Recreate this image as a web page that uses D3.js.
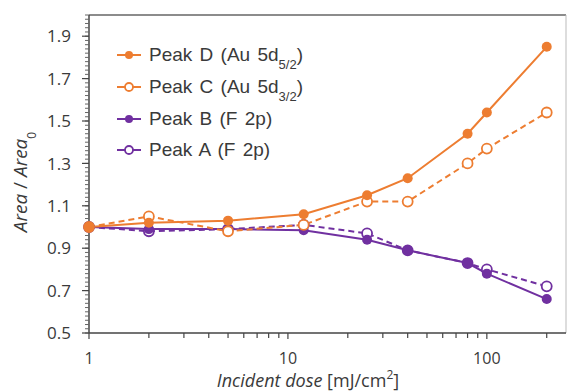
<!DOCTYPE html>
<html><head><meta charset="utf-8">
<script src="https://cdn.jsdelivr.net/npm/d3@7"></script>
<style>body{margin:0;background:#fff;} svg{display:block;}</style>
</head><body>
<svg id="c" width="568" height="391"></svg>
<script>
const doses = [1, 2, 5, 12, 25, 40, 80, 100, 200];
const peakD = [1.00, 1.02, 1.03, 1.06, 1.15, 1.23, 1.44, 1.54, 1.85];
const peakC = [1.00, 1.05, 0.98, 1.01, 1.12, 1.12, 1.30, 1.37, 1.54];
const peakB = [1.00, 0.99, 0.99, 0.985, 0.94, 0.89, 0.83, 0.78, 0.66];
const peakA = [1.00, 0.98, 0.99, 1.01, 0.97, 0.89, 0.83, 0.80, 0.72];
const yTicks = [0.5, 0.7, 0.9, 1.1, 1.3, 1.5, 1.7, 1.9];
const xTickLabels = [1, 10, 100];
const seriesNames = ["Peak D (Au 5d", "Peak C (Au 5d", "Peak B (F 2p)", "Peak A (F 2p)"];
const seriesSubs = ["5/2", "3/2", null, null];

const ORANGE = "#ED7D31", PURPLE = "#7030A0";
const series = [
  {vals: peakD, color: ORANGE, filled: true, dashed: false},
  {vals: peakC, color: ORANGE, filled: false, dashed: true},
  {vals: peakB, color: PURPLE, filled: true, dashed: false},
  {vals: peakA, color: PURPLE, filled: false, dashed: true}
];

const svg = d3.select("#c");
const L = 89, R = 566, T = 15, B = 333;
const x = d3.scaleLog().domain([1, 250]).range([L, R]);
const y = d3.scaleLinear().domain([0.5, 2.0]).range([B, T]);
const TXT = "#3a3a3a";

// frame
svg.append("line").attr("x1", L).attr("x2", R).attr("y1", T).attr("y2", T).attr("stroke", "#666").attr("stroke-width", 1.5);
svg.append("line").attr("x1", R).attr("x2", R).attr("y1", T).attr("y2", B).attr("stroke", "#bbb").attr("stroke-width", 1);

// y axis
const yMinor = d3.range(0.5, 2.0001, 0.02);
const ya = svg.append("g").attr("transform", `translate(${L},0)`);
ya.append("line").attr("x1", 0).attr("x2", 0).attr("y1", T).attr("y2", B).attr("stroke", "#444").attr("stroke-width", 1.5);
ya.selectAll("line.mn").data(yMinor).join("line").attr("class", "mn")
  .attr("x1", -4).attr("x2", 0).attr("y1", d => y(d)).attr("y2", d => y(d)).attr("stroke", "#666").attr("stroke-width", 1);
ya.selectAll("line.mj").data(yTicks).join("line").attr("class", "mj")
  .attr("x1", -7).attr("x2", 0).attr("y1", d => y(d)).attr("y2", d => y(d)).attr("stroke", "#444").attr("stroke-width", 1.2);
ya.selectAll("text").data(yTicks).join("text")
  .attr("x", -18).attr("y", d => y(d)).attr("dy", "0.36em").attr("text-anchor", "end")
  .attr("font-family", "Open Sans, sans-serif").attr("font-size", 17).attr("fill", TXT)
  .text(d => d.toFixed(1));

// x axis
const xa = svg.append("g").attr("transform", `translate(0,${B})`);
xa.append("line").attr("x1", L).attr("x2", R).attr("y1", 0).attr("y2", 0).attr("stroke", "#444").attr("stroke-width", 1.5);
const xMinor = [];
[1, 10, 100].forEach(dec => { for (let k = 1; k < 10; k++) { const v = dec * k; if (v <= 250) xMinor.push(v); } });
xa.selectAll("line.tk").data(xMinor).join("line").attr("class", "tk")
  .attr("x1", d => x(d)).attr("x2", d => x(d)).attr("y1", 0).attr("y2", d => xTickLabels.includes(d) ? 6 : 5)
  .attr("stroke", "#444").attr("stroke-width", 1.2);
xa.selectAll("text").data(xTickLabels).join("text")
  .attr("x", d => x(d)).attr("y", 31).attr("text-anchor", "middle")
  .attr("font-family", "Open Sans, sans-serif").attr("font-size", 16).attr("fill", TXT)
  .text(d => d);

// axis titles
const xt = svg.append("text").attr("x", 308).attr("y", 387).attr("text-anchor", "middle")
  .attr("font-family", "Open Sans, sans-serif").attr("font-size", 18).attr("fill", TXT);
xt.append("tspan").attr("font-style", "italic").text("Incident dose ");
xt.append("tspan").text("[mJ/cm");
xt.append("tspan").attr("baseline-shift", "super").attr("font-size", 12).text("2");
xt.append("tspan").text("]");

const yt = svg.append("text").attr("transform", `translate(27,182) rotate(-90)`).attr("text-anchor", "middle")
  .attr("font-family", "Open Sans, sans-serif").attr("font-size", 19).attr("fill", TXT);
yt.append("tspan").attr("font-style", "italic").text("Area");
yt.append("tspan").text(" / ");
yt.append("tspan").attr("font-style", "italic").text("Area");
yt.append("tspan").attr("baseline-shift", "sub").attr("font-size", 12).text("0");

// series
const line = d3.line().x(d => x(d[0])).y(d => y(d[1]));
const drawOrder = [3, 2, 1, 0];
drawOrder.forEach(i => {
  const s = series[i];
  const pts = doses.map((d, j) => [d, s.vals[j]]);
  svg.append("path").datum(pts).attr("d", line).attr("fill", "none")
    .attr("stroke", s.color).attr("stroke-width", 2).attr("stroke-dasharray", s.dashed ? "6,4" : null);
});
drawOrder.forEach(i => {
  const s = series[i];
  const pts = doses.map((d, j) => [d, s.vals[j]]);
  svg.append("g").selectAll("circle").data(pts).join("circle")
    .attr("cx", d => x(d[0])).attr("cy", d => y(d[1])).attr("r", 5)
    .attr("fill", s.filled ? s.color : "#fff").attr("stroke", s.color).attr("stroke-width", s.filled ? 0 : 1.8);
});

// legend
const lg = svg.append("g");
const legY = [55, 87, 119, 150];
series.forEach((s, i) => {
  const g = lg.append("g").attr("transform", `translate(0,${legY[i]})`);
  g.append("line").attr("x1", 117).attr("x2", 141).attr("y1", 0).attr("y2", 0).attr("stroke", s.color).attr("stroke-width", 2);
  g.append("circle").attr("cx", 129).attr("cy", 0).attr("r", 4).attr("fill", s.filled ? s.color : "#fff")
    .attr("stroke", s.color).attr("stroke-width", s.filled ? 0 : 1.8);
  const t = g.append("text").attr("x", 149).attr("y", 0).attr("dy", "0.33em")
    .attr("font-family", "Liberation Sans, Arial, sans-serif").attr("font-size", 19).attr("fill", TXT)
    .attr("word-spacing", 2);
  t.append("tspan").text(seriesNames[i]);
  if (seriesSubs[i]) {
    t.append("tspan").attr("baseline-shift", "sub").attr("font-size", 13).text(seriesSubs[i]);
    t.append("tspan").text(")");
  }
});
</script>
</body></html>
